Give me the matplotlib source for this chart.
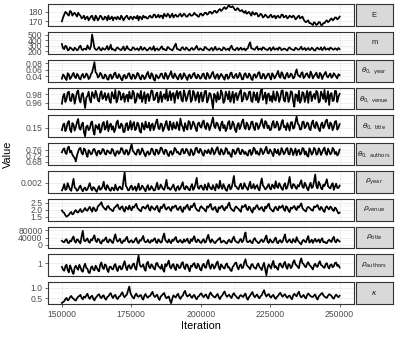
import numpy as np
import matplotlib
matplotlib.use('Agg')
import matplotlib.pyplot as plt

plt.rcParams['font.family'] = ['Liberation Sans', 'DejaVu Sans']

# trace values; *_a are the even draws, *_b the odd draws in between
E_a = [170, 177, 179, 176, 180, 178, 177, 179, 176, 174,
       172, 175, 173, 176, 171, 174, 173, 175, 172, 174,
       176, 173, 171, 174, 175, 172, 174, 173, 176, 172,
       174, 175, 173, 171, 174, 176, 175, 173, 176, 174,
       177, 175, 174, 176, 178, 175, 177, 176, 174, 177,
       175, 178, 176, 177, 175, 178, 176, 179, 177, 175,
       178, 177, 179, 178, 180, 179, 181, 180, 183, 182,
       185, 184, 187, 185, 184, 182, 183, 181, 180, 181,
       179, 178, 180, 177, 178, 176, 177, 175, 176, 174,
       177, 175, 173, 176, 174, 177, 175, 173, 176, 174,
       175, 173, 176, 174, 172, 169, 171, 168, 166, 168,
       167, 169, 166, 168, 171, 170, 173, 172, 174, 173]
E_b = [174, 180, 177, 181, 176, 179, 175, 177, 173, 176,
       174, 171, 175, 172, 176, 171, 176, 172, 175, 171,
       172, 175, 174, 172, 173, 176, 171, 175, 173, 175,
       172, 174, 176, 175, 172, 174, 173, 175, 174, 177,
       174, 177, 176, 173, 176, 178, 174, 178, 176, 175,
       177, 175, 178, 175, 177, 176, 177, 177, 175, 178,
       176, 179, 177, 180, 178, 181, 179, 182, 181, 184,
       183, 186, 185, 186, 182, 184, 181, 182, 179, 178,
       180, 176, 178, 179, 175, 178, 174, 177, 174, 176,
       174, 176, 175, 174, 177, 174, 176, 174, 175, 176,
       172, 175, 173, 175, 170, 170, 168, 167, 169, 166,
       169, 166, 168, 170, 169, 172, 171, 174, 172, 175]

m_a = [330, 235, 285, 220, 250, 212, 245, 228, 300, 218,
       240, 305, 232, 505, 258, 222, 275, 214, 238, 252,
       224, 318, 236, 208, 268, 228, 248, 215, 292, 232,
       222, 258, 238, 214, 282, 228, 244, 219, 266, 233,
       210, 251, 226, 288, 241, 218, 262, 229, 246, 335,
       236, 214, 271, 224, 243, 212, 258, 231, 296, 222,
       238, 216, 264, 229, 247, 211, 279, 226, 242, 219,
       257, 232, 214, 301, 228, 246, 218, 263, 235, 212,
       251, 362, 248, 226, 284, 238, 219, 259, 230, 247,
       213, 273, 236, 222, 255, 229, 242, 210, 268, 233,
       218, 249, 226, 281, 237, 215, 256, 228, 244, 211,
       262, 230, 217, 274, 235, 221, 252, 226, 240, 258]
m_b = [250, 300, 215, 270, 228, 262, 216, 280, 232, 245,
       226, 258, 290, 380, 230, 248, 226, 258, 226, 295,
       248, 230, 222, 255, 240, 218, 285, 236, 244, 215,
       270, 225, 252, 240, 226, 265, 214, 248, 226, 290,
       238, 220, 262, 230, 218, 276, 236, 214, 300, 240,
       222, 258, 232, 268, 220, 246, 224, 262, 236, 250,
       220, 278, 238, 214, 258, 240, 226, 250, 216, 268,
       222, 246, 270, 238, 216, 262, 240, 225, 250, 240,
       320, 250, 232, 258, 222, 248, 270, 234, 218, 262,
       240, 226, 250, 268, 218, 246, 224, 254, 238, 222,
       262, 230, 250, 226, 258, 240, 222, 262, 218, 250,
       236, 268, 240, 226, 248, 264, 232, 252, 220, 236]

theta_year_a = [0.032, 0.041, 0.028, 0.045, 0.036, 0.050, 0.034, 0.043, 0.030, 0.047,
                0.038, 0.044, 0.035, 0.052, 0.083, 0.048, 0.039, 0.046, 0.033, 0.042,
                0.029, 0.045, 0.037, 0.051, 0.034, 0.040, 0.027, 0.044, 0.036, 0.049,
                0.031, 0.043, 0.038, 0.046, 0.030, 0.041, 0.035, 0.053, 0.033, 0.045,
                0.026, 0.040, 0.037, 0.048, 0.032, 0.044, 0.039, 0.055, 0.034, 0.042,
                0.030, 0.047, 0.036, 0.043, 0.028, 0.045, 0.038, 0.050, 0.033, 0.041,
                0.035, 0.048, 0.031, 0.044, 0.037, 0.053, 0.032, 0.046, 0.039, 0.042,
                0.029, 0.045, 0.036, 0.051, 0.034, 0.047, 0.038, 0.043, 0.031, 0.049,
                0.035, 0.044, 0.028, 0.046, 0.040, 0.052, 0.033, 0.045, 0.037, 0.048,
                0.030, 0.043, 0.039, 0.056, 0.035, 0.047, 0.032, 0.050, 0.038, 0.044,
                0.036, 0.061, 0.041, 0.049, 0.034, 0.046, 0.039, 0.054, 0.033, 0.045,
                0.037, 0.050, 0.031, 0.047, 0.040, 0.043, 0.035, 0.049, 0.038, 0.046]
theta_year_b = [0.045, 0.033, 0.049, 0.031, 0.044, 0.038, 0.047, 0.033, 0.042, 0.035,
                0.048, 0.031, 0.046, 0.066, 0.052, 0.036, 0.050, 0.034, 0.045, 0.031,
                0.043, 0.032, 0.048, 0.036, 0.046, 0.031, 0.042, 0.033, 0.047, 0.035,
                0.045, 0.032, 0.050, 0.034, 0.043, 0.031, 0.046, 0.038, 0.049, 0.030,
                0.044, 0.033, 0.047, 0.036, 0.050, 0.031, 0.046, 0.037, 0.048, 0.034,
                0.043, 0.031, 0.049, 0.035, 0.042, 0.033, 0.047, 0.036, 0.045, 0.032,
                0.046, 0.034, 0.050, 0.033, 0.048, 0.038, 0.043, 0.031, 0.047, 0.035,
                0.044, 0.032, 0.049, 0.036, 0.043, 0.034, 0.050, 0.030, 0.046, 0.037,
                0.048, 0.031, 0.044, 0.035, 0.051, 0.034, 0.047, 0.032, 0.046, 0.036,
                0.049, 0.033, 0.047, 0.040, 0.052, 0.034, 0.045, 0.036, 0.048, 0.033,
                0.050, 0.044, 0.037, 0.052, 0.038, 0.049, 0.035, 0.046, 0.040, 0.051,
                0.034, 0.045, 0.041, 0.053, 0.036, 0.048, 0.039, 0.044, 0.033, 0.043]

theta_venue_a = [0.958, 0.981, 0.969, 0.986, 0.964, 0.978, 0.972, 0.989, 0.961, 0.983,
                 0.948, 0.976, 0.967, 0.985, 0.971, 0.980, 0.963, 0.987, 0.974, 0.966,
                 0.982, 0.960, 0.977, 0.990, 0.968, 0.984, 0.973, 0.962, 0.979, 0.986,
                 0.970, 0.983, 0.965, 0.977, 0.988, 0.972, 0.959, 0.981, 0.975, 0.987,
                 0.968, 0.984, 0.971, 0.962, 0.980, 0.991, 0.974, 0.966, 0.983, 0.978,
                 0.970, 0.986, 0.963, 0.979, 0.973, 0.989, 0.967, 0.982, 0.976, 0.961,
                 0.984, 0.972, 0.988, 0.969, 0.980, 0.947, 0.977, 0.985, 0.970, 0.982,
                 0.964, 0.979, 0.987, 0.973, 0.960, 0.983, 0.975, 0.990, 0.968, 0.981,
                 0.971, 0.986, 0.962, 0.978, 0.984, 0.969, 0.993, 0.974, 0.958, 0.982,
                 0.976, 0.987, 0.965, 0.980, 0.972, 0.989, 0.963, 0.983, 0.970, 0.985,
                 0.951, 0.978, 0.988, 0.967, 0.982, 0.973, 0.960, 0.986, 0.975, 0.969,
                 0.984, 0.964, 0.979, 0.990, 0.971, 0.955, 0.983, 0.966, 0.987, 0.974]
theta_venue_b = [0.975, 0.962, 0.984, 0.966, 0.981, 0.958, 0.985, 0.968, 0.979, 0.965,
                 0.972, 0.986, 0.961, 0.978, 0.988, 0.966, 0.981, 0.969, 0.983, 0.974,
                 0.965, 0.985, 0.970, 0.961, 0.987, 0.967, 0.982, 0.975, 0.963, 0.971,
                 0.988, 0.960, 0.982, 0.970, 0.962, 0.985, 0.977, 0.964, 0.989, 0.966,
                 0.980, 0.961, 0.986, 0.975, 0.969, 0.965, 0.987, 0.981, 0.960, 0.988,
                 0.984, 0.966, 0.989, 0.964, 0.985, 0.962, 0.988, 0.965, 0.985, 0.978,
                 0.963, 0.987, 0.961, 0.983, 0.966, 0.981, 0.962, 0.968, 0.989, 0.960,
                 0.986, 0.968, 0.962, 0.986, 0.979, 0.966, 0.985, 0.963, 0.984, 0.967,
                 0.985, 0.964, 0.985, 0.966, 0.961, 0.987, 0.967, 0.984, 0.979, 0.965,
                 0.962, 0.969, 0.986, 0.962, 0.988, 0.966, 0.985, 0.962, 0.987, 0.964,
                 0.980, 0.964, 0.960, 0.985, 0.962, 0.988, 0.984, 0.964, 0.981, 0.988,
                 0.961, 0.986, 0.969, 0.962, 0.987, 0.980, 0.964, 0.988, 0.962, 0.981]

theta_title_a = [0.145, 0.158, 0.149, 0.163, 0.141, 0.156, 0.151, 0.167, 0.146, 0.160,
                 0.133, 0.154, 0.148, 0.162, 0.136, 0.152, 0.157, 0.145, 0.161, 0.150,
                 0.143, 0.158, 0.153, 0.147, 0.164, 0.149, 0.155, 0.142, 0.159, 0.151,
                 0.146, 0.161, 0.148, 0.156, 0.140, 0.153, 0.162, 0.150, 0.144, 0.158,
                 0.152, 0.166, 0.147, 0.157, 0.149, 0.163, 0.145, 0.155, 0.160, 0.148,
                 0.154, 0.168, 0.151, 0.159, 0.146, 0.161, 0.153, 0.157, 0.143, 0.160,
                 0.150, 0.164, 0.147, 0.156, 0.152, 0.170, 0.149, 0.158, 0.144, 0.162,
                 0.155, 0.148, 0.163, 0.151, 0.157, 0.141, 0.159, 0.153, 0.166, 0.147,
                 0.156, 0.150, 0.162, 0.145, 0.158, 0.152, 0.167, 0.149, 0.160, 0.154,
                 0.146, 0.163, 0.151, 0.157, 0.148, 0.165, 0.153, 0.159, 0.144, 0.161,
                 0.150, 0.172, 0.155, 0.147, 0.162, 0.152, 0.158, 0.145, 0.164, 0.149,
                 0.156, 0.143, 0.160, 0.153, 0.166, 0.148, 0.157, 0.151, 0.163, 0.150]
theta_title_b = [0.155, 0.143, 0.160, 0.146, 0.159, 0.144, 0.161, 0.149, 0.156, 0.141,
                 0.152, 0.145, 0.159, 0.144, 0.155, 0.147, 0.140, 0.158, 0.146, 0.163,
                 0.154, 0.146, 0.141, 0.160, 0.150, 0.158, 0.141, 0.157, 0.145, 0.163,
                 0.156, 0.145, 0.160, 0.143, 0.159, 0.146, 0.151, 0.160, 0.155, 0.145,
                 0.161, 0.149, 0.158, 0.143, 0.157, 0.150, 0.162, 0.146, 0.150, 0.161,
                 0.145, 0.156, 0.143, 0.150, 0.163, 0.147, 0.162, 0.149, 0.158, 0.152,
                 0.160, 0.151, 0.159, 0.145, 0.161, 0.153, 0.160, 0.150, 0.157, 0.149,
                 0.143, 0.160, 0.147, 0.162, 0.146, 0.155, 0.147, 0.162, 0.151, 0.160,
                 0.146, 0.161, 0.150, 0.159, 0.147, 0.160, 0.154, 0.163, 0.149, 0.145,
                 0.158, 0.150, 0.162, 0.145, 0.160, 0.151, 0.145, 0.152, 0.160, 0.148,
                 0.162, 0.158, 0.146, 0.161, 0.149, 0.160, 0.147, 0.159, 0.152, 0.161,
                 0.147, 0.156, 0.149, 0.163, 0.154, 0.160, 0.145, 0.162, 0.146, 0.157]

theta_authors_a = [0.742, 0.768, 0.731, 0.779, 0.752, 0.715, 0.683, 0.746, 0.771, 0.728,
                   0.759, 0.712, 0.747, 0.735, 0.764, 0.721, 0.753, 0.738, 0.760, 0.727,
                   0.749, 0.733, 0.758, 0.719, 0.751, 0.742, 0.766, 0.729, 0.755, 0.737,
                   0.795, 0.744, 0.726, 0.761, 0.739, 0.752, 0.716, 0.748, 0.734, 0.763,
                   0.725, 0.757, 0.741, 0.769, 0.730, 0.754, 0.718, 0.750, 0.736, 0.762,
                   0.745, 0.728, 0.765, 0.740, 0.756, 0.722, 0.749, 0.733, 0.772, 0.738,
                   0.753, 0.720, 0.747, 0.760, 0.731, 0.756, 0.742, 0.775, 0.727, 0.751,
                   0.736, 0.764, 0.743, 0.712, 0.755, 0.739, 0.768, 0.730, 0.752, 0.745,
                   0.721, 0.758, 0.737, 0.763, 0.749, 0.726, 0.757, 0.741, 0.778, 0.734,
                   0.750, 0.717, 0.746, 0.761, 0.732, 0.754, 0.740, 0.770, 0.728, 0.757,
                   0.744, 0.723, 0.759, 0.736, 0.766, 0.748, 0.714, 0.752, 0.739, 0.762,
                   0.731, 0.755, 0.743, 0.773, 0.726, 0.750, 0.738, 0.761, 0.745, 0.733]
theta_authors_b = [0.760, 0.739, 0.771, 0.741, 0.727, 0.704, 0.722, 0.766, 0.737, 0.767,
                   0.731, 0.756, 0.729, 0.761, 0.741, 0.748, 0.730, 0.764, 0.733, 0.755,
                   0.738, 0.765, 0.731, 0.746, 0.732, 0.770, 0.738, 0.757, 0.726, 0.768,
                   0.752, 0.731, 0.757, 0.728, 0.768, 0.730, 0.742, 0.727, 0.766, 0.733,
                   0.760, 0.730, 0.773, 0.744, 0.760, 0.728, 0.745, 0.726, 0.771, 0.740,
                   0.730, 0.760, 0.734, 0.765, 0.731, 0.762, 0.724, 0.768, 0.744, 0.765,
                   0.729, 0.755, 0.736, 0.741, 0.770, 0.728, 0.766, 0.737, 0.763, 0.728,
                   0.770, 0.732, 0.724, 0.760, 0.730, 0.766, 0.734, 0.759, 0.731, 0.727,
                   0.753, 0.725, 0.772, 0.733, 0.729, 0.767, 0.730, 0.763, 0.738, 0.761,
                   0.734, 0.765, 0.735, 0.725, 0.770, 0.729, 0.764, 0.731, 0.768, 0.724,
                   0.767, 0.751, 0.727, 0.770, 0.728, 0.721, 0.768, 0.727, 0.771, 0.727,
                   0.768, 0.725, 0.761, 0.735, 0.766, 0.729, 0.771, 0.731, 0.722, 0.760]

rho_year_a = [0.00120, 0.00185, 0.00135, 0.00160, 0.00115, 0.00240, 0.00140, 0.00125, 0.00170, 0.00110,
              0.00150, 0.00130, 0.00195, 0.00120, 0.00145, 0.00105, 0.00165, 0.00135, 0.00210, 0.00125,
              0.00155, 0.00115, 0.00140, 0.00180, 0.00120, 0.00160, 0.00130, 0.00310, 0.00150, 0.00125,
              0.00170, 0.00140, 0.00115, 0.00190, 0.00135, 0.00155, 0.00110, 0.00175, 0.00130, 0.00145,
              0.00120, 0.00200, 0.00140, 0.00160, 0.00125, 0.00230, 0.00150, 0.00135, 0.00180, 0.00115,
              0.00165, 0.00140, 0.00205, 0.00130, 0.00155, 0.00120, 0.00185, 0.00145, 0.00250, 0.00135,
              0.00170, 0.00125, 0.00150, 0.00195, 0.00140, 0.00175, 0.00120, 0.00160, 0.00220, 0.00135,
              0.00155, 0.00115, 0.00180, 0.00145, 0.00270, 0.00160, 0.00130, 0.00190, 0.00140, 0.00165,
              0.00125, 0.00210, 0.00150, 0.00135, 0.00175, 0.00120, 0.00245, 0.00155, 0.00140, 0.00185,
              0.00130, 0.00165, 0.00215, 0.00145, 0.00170, 0.00125, 0.00195, 0.00150, 0.00260, 0.00140,
              0.00180, 0.00135, 0.00160, 0.00225, 0.00145, 0.00175, 0.00120, 0.00200, 0.00155, 0.00285,
              0.00140, 0.00185, 0.00130, 0.00165, 0.00235, 0.00150, 0.00175, 0.00125, 0.00190, 0.00145]
rho_year_b = [0.00145, 0.00125, 0.00195, 0.00130, 0.00175, 0.00150, 0.00115, 0.00155, 0.00130, 0.00140,
              0.00120, 0.00165, 0.00140, 0.00155, 0.00120, 0.00140, 0.00125, 0.00160, 0.00140, 0.00175,
              0.00125, 0.00150, 0.00120, 0.00140, 0.00150, 0.00135, 0.00220, 0.00170, 0.00120, 0.00160,
              0.00125, 0.00160, 0.00150, 0.00125, 0.00170, 0.00130, 0.00150, 0.00125, 0.00165, 0.00120,
              0.00160, 0.00130, 0.00180, 0.00135, 0.00170, 0.00140, 0.00125, 0.00160, 0.00135, 0.00150,
              0.00125, 0.00175, 0.00140, 0.00165, 0.00130, 0.00160, 0.00125, 0.00190, 0.00150, 0.00165,
              0.00140, 0.00180, 0.00125, 0.00160, 0.00130, 0.00145, 0.00185, 0.00140, 0.00160, 0.00185,
              0.00125, 0.00165, 0.00130, 0.00200, 0.00165, 0.00140, 0.00170, 0.00135, 0.00195, 0.00145,
              0.00170, 0.00140, 0.00185, 0.00160, 0.00135, 0.00190, 0.00170, 0.00130, 0.00165, 0.00140,
              0.00180, 0.00140, 0.00160, 0.00195, 0.00140, 0.00170, 0.00135, 0.00205, 0.00165, 0.00185,
              0.00150, 0.00175, 0.00195, 0.00160, 0.00200, 0.00140, 0.00170, 0.00145, 0.00215, 0.00165,
              0.00210, 0.00145, 0.00180, 0.00200, 0.00165, 0.00140, 0.00195, 0.00160, 0.00145, 0.00170]

rho_venue_a = [1.95, 1.78, 1.52, 1.64, 1.85, 1.72, 1.98, 1.81, 2.05, 1.88,
               2.12, 1.93, 2.20, 1.86, 2.08, 1.97, 2.31, 2.52, 2.15, 1.99,
               2.26, 2.04, 1.90, 2.18, 2.36, 2.02, 2.24, 1.87, 2.11, 2.29,
               1.96, 2.14, 2.41, 2.03, 1.89, 2.21, 2.07, 2.33, 1.94, 2.16,
               2.00, 2.27, 1.85, 2.10, 2.38, 2.01, 2.19, 1.92, 2.13, 2.30,
               1.98, 2.22, 1.84, 2.06, 2.34, 1.97, 2.17, 2.45, 2.02, 1.91,
               2.25, 2.09, 1.88, 2.15, 2.40, 1.99, 2.20, 1.83, 2.08, 2.28,
               1.95, 2.12, 2.49, 2.04, 1.90, 2.23, 2.06, 1.86, 2.18, 2.35,
               1.97, 2.14, 1.81, 2.05, 2.32, 2.00, 2.19, 1.89, 2.11, 2.42,
               2.03, 1.87, 2.21, 1.96, 2.13, 2.30, 1.92, 2.16, 1.84, 2.07,
               2.26, 1.98, 2.14, 2.44, 2.01, 1.88, 2.20, 2.05, 1.93, 2.17,
               2.33, 1.99, 2.10, 1.85, 2.24, 2.02, 2.15, 1.91, 2.08, 1.74]
rho_venue_b = [1.84, 1.62, 1.58, 1.77, 1.68, 1.90, 1.83, 1.95, 1.84, 2.00,
               1.96, 2.10, 2.02, 2.16, 1.90, 2.24, 2.40, 2.25, 2.05, 2.22,
               2.08, 1.95, 2.13, 2.29, 2.10, 2.18, 1.98, 2.20, 2.02, 2.07,
               2.22, 2.30, 2.12, 1.95, 2.15, 2.12, 2.25, 2.05, 2.24, 2.06,
               2.18, 1.96, 2.20, 2.28, 2.08, 2.15, 2.03, 2.22, 2.24, 2.05,
               2.14, 1.95, 2.17, 2.26, 2.08, 2.27, 2.32, 2.13, 1.93, 2.16,
               2.12, 1.96, 2.24, 2.30, 2.07, 2.14, 1.92, 2.18, 2.22, 2.05,
               2.18, 2.35, 2.15, 1.96, 2.14, 2.12, 1.95, 2.26, 2.25, 2.06,
               2.22, 1.92, 2.13, 2.24, 2.10, 2.12, 1.98, 2.22, 2.30, 2.11,
               1.93, 2.12, 2.04, 2.24, 2.20, 2.02, 2.24, 1.93, 2.15, 2.18,
               2.07, 2.24, 2.30, 2.12, 1.94, 2.12, 2.14, 1.97, 2.23, 2.25,
               2.10, 2.20, 1.93, 2.16, 2.10, 2.22, 1.98, 2.15, 1.90, 1.80]

rho_title_a = [22000, 14000, 31000, 9000, 18000, 46000, 12000, 27000, 8000, 77000,
               19000, 35000, 11000, 24000, 52000, 15000, 29000, 7000, 21000, 41000,
               13000, 26000, 10000, 58000, 17000, 33000, 9000, 20000, 44000, 12000,
               25000, 16000, 38000, 8000, 22000, 49000, 14000, 28000, 11000, 19000,
               36000, 10000, 23000, 15000, 62000, 18000, 30000, 9000, 21000, 43000,
               13000, 27000, 11000, 17000, 34000, 8000, 20000, 47000, 14000, 24000,
               10000, 31000, 16000, 55000, 12000, 22000, 9000, 26000, 39000, 15000,
               19000, 7000, 28000, 13000, 45000, 18000, 11000, 32000, 21000, 68000,
               14000, 25000, 9000, 37000, 17000, 12000, 29000, 20000, 51000, 10000,
               23000, 15000, 40000, 8000, 26000, 18000, 57000, 13000, 30000, 11000,
               21000, 42000, 16000, 3000, 27000, 14000, 48000, 19000, 10000, 33000,
               22000, 12000, 36000, 17000, 9000, 28000, 15000, 44000, 13000, 24000]
rho_title_b = [16000, 26000, 12000, 24000, 35000, 20000, 30000, 14000, 48000, 25000,
               28000, 16000, 30000, 40000, 22000, 33000, 11000, 26000, 32000, 16000,
               30000, 14000, 38000, 28000, 24000, 12000, 25000, 34000, 18000, 22000,
               12000, 29000, 15000, 26000, 36000, 20000, 17000, 14000, 26000, 30000,
               14000, 30000, 12000, 44000, 26000, 12000, 17000, 28000, 34000, 20000,
               22000, 14000, 30000, 26000, 13000, 31000, 36000, 18000, 30000, 13000,
               24000, 12000, 40000, 26000, 30000, 13000, 20000, 32000, 12000, 23000,
               10000, 22000, 16000, 34000, 22000, 12000, 26000, 14000, 48000, 20000,
               18000, 12000, 30000, 22000, 9000, 24000, 15000, 38000, 16000, 30000,
               12000, 31000, 14000, 22000, 12000, 40000, 20000, 24000, 15000, 32000,
               14000, 24000, 8000, 22000, 18000, 33000, 12000, 28000, 24000, 16000,
               30000, 26000, 14000, 10000, 22000, 20000, 34000, 18000, 30000, 18000]

rho_authors_a = [0.88, 0.76, 0.95, 0.71, 0.84, 0.66, 0.92, 0.79, 0.87, 0.73,
                 0.98, 0.82, 0.69, 0.90, 0.77, 0.86, 0.74, 1.02, 0.81, 0.93,
                 0.72, 0.89, 0.80, 0.97, 0.75, 0.91, 0.83, 1.06, 0.78, 0.94,
                 0.85, 0.99, 0.79, 1.24, 0.88, 0.96, 0.76, 1.04, 0.84, 0.92,
                 0.80, 1.01, 0.87, 0.95, 0.73, 0.90, 1.08, 0.83, 0.97, 0.78,
                 0.93, 0.86, 1.03, 0.81, 0.95, 0.74, 0.89, 1.00, 0.84, 0.92,
                 0.77, 0.98, 0.85, 1.10, 0.82, 0.94, 0.88, 1.05, 0.79, 0.91,
                 0.83, 0.99, 0.87, 0.75, 0.93, 1.02, 0.80, 0.96, 0.86, 1.12,
                 0.90, 0.81, 0.97, 0.85, 0.94, 0.88, 0.78, 1.01, 0.62, 0.96,
                 0.83, 1.07, 0.91, 0.79, 0.99, 0.86, 1.04, 0.82, 0.95, 0.89,
                 1.09, 0.93, 0.84, 1.15, 0.97, 0.87, 1.03, 0.91, 0.80, 0.98,
                 0.88, 1.06, 0.92, 0.85, 1.00, 0.83, 0.96, 0.90, 1.02, 0.94]
rho_authors_b = [0.80, 0.90, 0.78, 0.93, 0.72, 0.86, 0.84, 0.95, 0.76, 0.90,
                 0.85, 0.70, 0.86, 0.80, 0.92, 0.78, 0.95, 0.86, 0.96, 0.79,
                 0.88, 0.82, 0.93, 0.82, 0.89, 0.80, 0.97, 0.88, 0.91, 0.82,
                 0.96, 0.84, 1.05, 0.95, 0.90, 0.82, 0.99, 0.88, 0.96, 0.83,
                 0.98, 0.90, 0.82, 0.80, 0.97, 0.99, 0.88, 0.94, 0.84, 0.96,
                 0.84, 0.99, 0.87, 0.96, 0.83, 0.92, 0.97, 0.86, 0.98, 0.80,
                 0.93, 0.87, 1.02, 0.90, 0.96, 0.83, 1.00, 0.87, 0.96, 0.85,
                 0.95, 0.86, 0.78, 0.88, 0.99, 0.87, 0.92, 0.84, 1.03, 0.94,
                 0.86, 0.95, 0.88, 0.82, 0.99, 0.84, 0.92, 0.80, 0.86, 0.90,
                 0.98, 0.86, 0.84, 0.97, 0.90, 0.98, 0.88, 0.97, 0.84, 1.03,
                 0.96, 0.88, 1.05, 1.00, 0.90, 0.98, 0.94, 0.85, 0.93, 0.90,
                 0.99, 0.94, 0.87, 0.97, 0.88, 0.94, 0.87, 1.00, 0.91, 0.86]

kappa_a = [0.28, 0.36, 0.52, 0.44, 0.61, 0.48, 0.39, 0.57, 0.66, 0.45,
           0.53, 0.71, 0.47, 0.62, 0.40, 0.58, 0.69, 0.50, 0.64, 0.43,
           0.59, 0.74, 0.51, 0.66, 0.46, 0.60, 0.78, 0.55, 0.68, 1.05,
           0.63, 0.49, 0.72, 0.57, 0.65, 0.44, 0.70, 0.53, 0.61, 0.80,
           0.56, 0.67, 0.42, 0.63, 0.75, 0.50, 0.59, 0.27, 0.64, 0.54,
           0.71, 0.47, 0.62, 0.85, 0.58, 0.69, 0.52, 0.66, 0.45, 0.60,
           0.73, 0.55, 0.68, 0.49, 0.77, 0.61, 0.54, 0.70, 0.46, 0.63,
           0.82, 0.57, 0.67, 0.51, 0.74, 0.59, 0.48, 0.65, 0.56, 0.72,
           0.43, 0.62, 0.79, 0.55, 0.68, 0.50, 0.64, 0.88, 0.58, 0.70,
           0.53, 0.66, 0.47, 0.61, 0.76, 0.57, 0.69, 0.52, 0.63, 0.45,
           0.71, 0.59, 0.81, 0.54, 0.66, 0.49, 0.73, 0.60, 0.56, 0.68,
           0.44, 0.64, 0.75, 0.58, 0.52, 0.69, 0.61, 0.48, 0.67, 0.55]
kappa_b = [0.32, 0.46, 0.40, 0.55, 0.52, 0.42, 0.50, 0.61, 0.52, 0.58,
           0.63, 0.55, 0.58, 0.48, 0.52, 0.65, 0.56, 0.61, 0.49, 0.56,
           0.68, 0.60, 0.62, 0.52, 0.57, 0.70, 0.62, 0.63, 0.88, 0.74,
           0.54, 0.64, 0.60, 0.63, 0.50, 0.62, 0.58, 0.60, 0.72, 0.63,
           0.62, 0.50, 0.58, 0.70, 0.58, 0.55, 0.40, 0.48, 0.58, 0.65,
           0.55, 0.58, 0.76, 0.66, 0.63, 0.58, 0.62, 0.52, 0.57, 0.69,
           0.62, 0.64, 0.55, 0.68, 0.66, 0.56, 0.64, 0.55, 0.58, 0.74,
           0.66, 0.62, 0.57, 0.66, 0.64, 0.52, 0.60, 0.60, 0.66, 0.52,
           0.56, 0.72, 0.63, 0.62, 0.56, 0.60, 0.78, 0.68, 0.66, 0.58,
           0.62, 0.54, 0.56, 0.70, 0.64, 0.65, 0.58, 0.60, 0.52, 0.63,
           0.64, 0.73, 0.62, 0.60, 0.55, 0.64, 0.66, 0.57, 0.63, 0.52,
           0.58, 0.70, 0.64, 0.54, 0.62, 0.66, 0.52, 0.60, 0.60, 0.62]

series = [(E_a, E_b), (m_a, m_b), (theta_year_a, theta_year_b),
          (theta_venue_a, theta_venue_b), (theta_title_a, theta_title_b),
          (theta_authors_a, theta_authors_b), (rho_year_a, rho_year_b),
          (rho_venue_a, rho_venue_b), (rho_title_a, rho_title_b),
          (rho_authors_a, rho_authors_b), (kappa_a, kappa_b)]
strip_labels = ['E', 'm',
                r'$\theta_{0,\ \mathrm{year}}$', r'$\theta_{0,\ \mathrm{venue}}$',
                r'$\theta_{0,\ \mathrm{title}}$', r'$\theta_{0,\ \mathrm{authors}}$',
                r'$\rho_{\mathrm{year}}$', r'$\rho_{\mathrm{venue}}$',
                r'$\rho_{\mathrm{title}}$', r'$\rho_{\mathrm{authors}}$', r'$\kappa$']
yticks = [[170, 180], [200, 300, 400, 500], [0.04, 0.06, 0.08], [0.96, 0.98], [0.15],
          [0.68, 0.72, 0.76], [0.002], [1.5, 2.0, 2.5], [0, 40000, 80000], [1], [0.5, 1.0]]
ylabels = [['170', '180'], ['200', '300', '400', '500'], ['0.04', '0.06', '0.08'],
           ['0.96', '0.98'], ['0.15'], ['0.68', '0.72', '0.76'], ['0.002'],
           ['1.5', '2.0', '2.5'], ['0', '40000', '80000'], ['1'], ['0.5', '1.0']]
xticks = [150000, 175000, 200000, 225000, 250000]
xminor = [162500, 187500, 212500, 237500]
start, end = 150000, 250000

W, H = 399, 337
fig = plt.figure(figsize=(W / 100, H / 100), dpi=100)
gs = fig.add_gridspec(11, 1, left=48 / W, right=353.5 / W, top=1 - 4.3 / H,
                      bottom=1 - 304 / H, hspace=0.28)

grid_col = '#EBEBEB'
dark = '#333333'
n = len(series)
for k in range(n):
    ax = fig.add_subplot(gs[k])
    a, b = series[k]
    vals = np.column_stack([a, b]).ravel()
    it = np.linspace(start, end, len(vals))
    ax.plot(it, vals, color='black', lw=1.25)
    ax.set_xlim(start - 0.05 * (end - start), end + 0.05 * (end - start))
    ax.margins(y=0.05)

    ax.set_yticks(yticks[k])
    ax.set_yticklabels(ylabels[k])
    if len(yticks[k]) > 1:
        t = yticks[k]
        step = t[1] - t[0]
        ax.set_yticks([v + step / 2 for v in [t[0] - step] + t], minor=True)
    ax.set_xticks(xticks)
    ax.set_xticks(xminor, minor=True)
    ax.grid(which='major', color=grid_col, lw=0.6)
    ax.grid(which='minor', color=grid_col, lw=0.3)
    ax.set_axisbelow(True)

    ax.tick_params(axis='y', length=2.5, width=0.5, color=dark, pad=1.5,
                   labelsize=6.2, labelcolor='#4D4D4D')
    ax.tick_params(which='minor', length=0)
    if k == n - 1:
        ax.set_xticklabels([str(v) for v in xticks])
        ax.tick_params(axis='x', length=2.5, width=0.5, color=dark, pad=1.5,
                       labelsize=6.2, labelcolor='#4D4D4D')
    else:
        ax.tick_params(axis='x', length=0, labelbottom=False)
    for s in ax.spines.values():
        s.set_color(dark)
        s.set_linewidth(0.8)

    # facet strip on the right
    pos = ax.get_position()
    sax = fig.add_axes([355.5 / W, pos.y0, 37.5 / W, pos.height])
    sax.set_facecolor('#D9D9D9')
    sax.set_xticks([])
    sax.set_yticks([])
    for s in sax.spines.values():
        s.set_color(dark)
        s.set_linewidth(0.8)
    sax.text(0.5, 0.5, strip_labels[k], ha='center', va='center',
             fontsize=5.3, color='#1A1A1A', transform=sax.transAxes)

fig.text(200.7 / W, 1 - 326 / H, 'Iteration', ha='center', va='center', fontsize=7.8)
fig.text(8 / W, 1 - 154 / H, 'Value', ha='center', va='center', rotation=90, fontsize=7.8)

fig.savefig('out.png', dpi=100)
